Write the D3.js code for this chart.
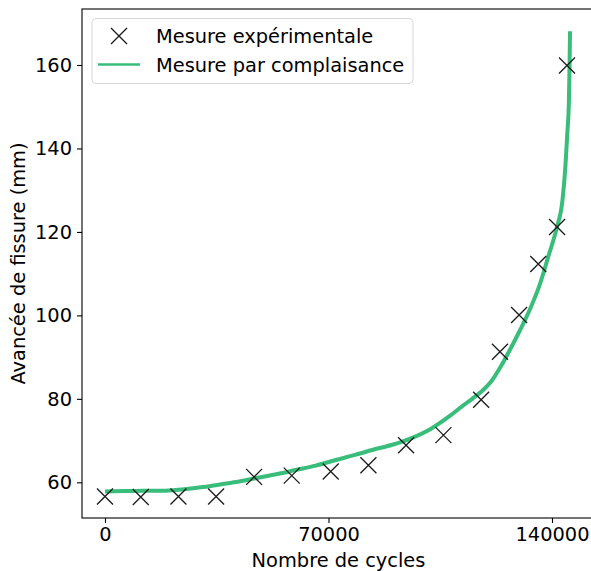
<!DOCTYPE html>
<html>
<head>
<meta charset="utf-8">
<script src="https://cdn.jsdelivr.net/npm/d3@7"></script>
<style>
  body { margin: 0; background: #fff; }
  svg { font-family: "DejaVu Sans", sans-serif; }
</style>
</head>
<body>
<div id="chart"></div>
<script>
var w = 591,
	h = 571;

// experimental points (cycles, crack length in mm)
var expCycles = [0, 11200, 23000, 34800, 46700, 58500, 70700, 82500, 94300, 106000, 117800, 123700, 129700, 135700, 141600, 144700];
var expLength = [56.6, 56.5, 56.6, 56.6, 61.3, 61.6, 62.6, 64.1, 68.9, 71.3, 79.8, 91.3, 100.1, 112.3, 121.2, 159.9];

var compCycles = [0, 6000, 12000, 18000, 24000, 30000, 36000, 42000, 48000, 54000, 60000, 66000, 72000, 78000, 84000, 90000, 96000, 102000, 108000, 112000, 115000, 118000, 121000, 124000, 127000, 130000, 133000, 136000, 139000, 141500, 143300, 144200, 144800, 145300, 145500, 145650];
var compLength = [57.8, 57.9, 58.0, 58.0, 58.3, 58.8, 59.5, 60.2, 61.1, 62.0, 63.0, 64.0, 65.3, 66.5, 67.8, 69.0, 70.6, 72.8, 75.9, 78.3, 80.0, 81.8, 84.2, 87.8, 92.0, 96.5, 101.3, 107.0, 114.5, 121.0, 127.7, 135.7, 143.6, 151.5, 159.6, 168.1];

var xTicks = [0, 70000, 140000];
var yTicks = [60, 80, 100, 120, 140, 160];

var legendLabels = ["Mesure expérimentale", "Mesure par complaisance"];
var lineColor = "#38bd7b";

var margin = {left: 82, top: 9, right: -1, bottom: 53};

var x = d3.scaleLinear()
	.domain([-7200, 152530])
	.range([margin.left, w - margin.right]);

var y = d3.scaleLinear()
	.domain([51.45, 173.42])
	.range([h - margin.bottom, margin.top]);

var svg = d3.select("#chart").append("svg")
	.attr("width", w)
	.attr("height", h);

// compliance curve
var line = d3.line()
	.x(function(d) { return x(d[0]); })
	.y(function(d) { return y(d[1]); })
	.curve(d3.curveMonotoneX);

svg.append("path")
	.datum(d3.zip(compCycles, compLength))
	.attr("d", line)
	.attr("fill", "none")
	.attr("stroke", lineColor)
	.attr("stroke-width", 4)
	.attr("stroke-linejoin", "round");

// experimental crosses
var cross = d3.symbol().type(d3.symbolTimes).size(150);
svg.selectAll(".mk")
	.data(d3.zip(expCycles, expLength))
	.enter().append("path")
	.attr("class", "mk")
	.attr("transform", function(d) { return "translate(" + x(d[0]) + "," + y(d[1]) + ") rotate(0)"; })
	.attr("d", "M-8,-8L8,8M-8,8L8,-8")
	.attr("stroke", "#1a1a1a")
	.attr("stroke-width", 1.3)
	.attr("fill", "none");

// axes
var xAxis = svg.append("g")
	.attr("transform", "translate(0," + (h - margin.bottom) + ")")
	.call(d3.axisBottom(x).tickValues(xTicks).tickSize(5).tickPadding(4).tickFormat(d3.format("d")));

var yAxis = svg.append("g")
	.attr("transform", "translate(" + margin.left + ",0)")
	.call(d3.axisLeft(y).tickValues(yTicks).tickSize(5).tickPadding(5).tickFormat(d3.format("d")));

[xAxis, yAxis].forEach(function(a) {
	a.select(".domain").remove();
	a.selectAll("line").attr("stroke", "#000").attr("stroke-width", 1.1);
	a.selectAll("text")
		.attr("font-family", "DejaVu Sans")
		.attr("font-size", "19.4px")
		.attr("fill", "#000");
});

// frame
svg.append("rect")
	.attr("x", margin.left)
	.attr("y", margin.top)
	.attr("width", w - margin.right - margin.left)
	.attr("height", h - margin.bottom - margin.top)
	.attr("fill", "none")
	.attr("stroke", "#000")
	.attr("stroke-width", 1.1);

// axis titles
svg.append("text")
	.attr("x", (margin.left + w) / 2 + 2)
	.attr("y", 567)
	.attr("text-anchor", "middle")
	.attr("font-size", "19.4px")
	.text("Nombre de cycles");

svg.append("text")
	.attr("transform", "translate(25," + ((margin.top + h - margin.bottom) / 2) + ") rotate(-90)")
	.attr("text-anchor", "middle")
	.attr("font-size", "19.4px")
	.text("Avancée de fissure (mm)");

// legend
var legend = svg.append("g")
	.attr("class", "legend");

legend.append("rect")
	.attr("x", 92)
	.attr("y", 18.5)
	.attr("width", 321)
	.attr("height", 65)
	.attr("rx", 4)
	.attr("fill", "#fff")
	.attr("fill-opacity", 0.8)
	.attr("stroke", "#d6d6d6")
	.attr("stroke-width", 1);

legend.append("path")
	.attr("transform", "translate(119,36)")
	.attr("d", "M-8,-8L8,8M-8,8L8,-8")
	.attr("stroke", "#1a1a1a")
	.attr("stroke-width", 1.3);

legend.append("line")
	.attr("x1", 98)
	.attr("x2", 140)
	.attr("y1", 64.5)
	.attr("y2", 64.5)
	.attr("stroke", lineColor)
	.attr("stroke-width", 2.6);

legend.selectAll(".lt")
	.data(legendLabels)
	.enter().append("text")
	.attr("class", "lt")
	.attr("x", 156)
	.attr("y", function(d, i) { return 43 + i * 28.5; })
	.attr("font-size", "19.4px")
	.attr("fill", "#000")
	.text(function(d) { return d; });
</script>
</body>
</html>
